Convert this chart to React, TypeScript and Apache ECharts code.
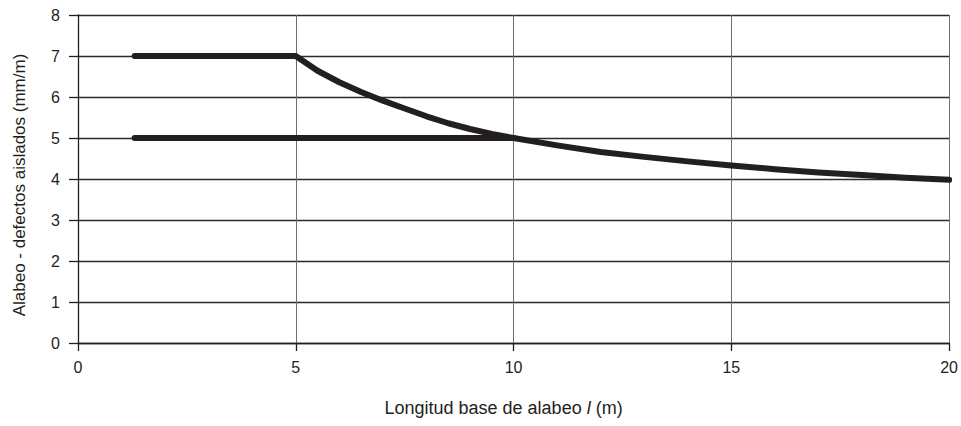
import React, { useEffect, useRef } from "react";
import * as echarts from "echarts";

const upperX = [1.3, 5, 5.5, 6, 6.5, 7, 7.5, 8, 8.5, 9, 9.5, 10, 11, 12, 13, 14, 15, 16, 17, 18, 19, 20];
const upperY = [7, 7, 6.64, 6.36, 6.12, 5.91, 5.72, 5.53, 5.36, 5.22, 5.1, 5.0, 4.82, 4.66, 4.54, 4.43, 4.33, 4.24, 4.16, 4.1, 4.03, 3.98];
const lowerX = [1.3, 10];
const lowerY = [5, 5];
const xTicks = [0, 5, 10, 15, 20];
const yTicks = [0, 1, 2, 3, 4, 5, 6, 7, 8];

export default function App() {
  const ref = useRef<HTMLDivElement>(null);
  useEffect(() => {
    if (!ref.current) return;
    const chart = echarts.init(ref.current, null, { renderer: "svg" });
    const font = "'Liberation Sans', Arial, sans-serif";
    chart.setOption({
      animation: false,
      textStyle: { fontFamily: font },
      grid: { left: 78, right: 10, top: 15, bottom: 83 },
      xAxis: {
        type: "value",
        min: xTicks[0],
        max: xTicks[xTicks.length - 1],
        interval: 5,
        name: "Longitud base de alabeo {i|l} (m)",
        nameLocation: "middle",
        nameGap: 56,
        nameTextStyle: {
          fontSize: 18,
          color: "#231f20",
          fontFamily: font,
          padding: [0, 20, 0, 0],
          rich: { i: { fontStyle: "italic", fontSize: 18, color: "#231f20", fontFamily: font } },
        },
        axisLine: { show: true, onZero: false, lineStyle: { color: "#231f20", width: 1.3 } },
        axisTick: { show: true, length: 8, lineStyle: { color: "#231f20", width: 1.3 } },
        axisLabel: { fontSize: 16, color: "#231f20", margin: 16 },
        splitLine: { show: true, lineStyle: { color: "#6d6d6d", width: 1 } },
      },
      yAxis: {
        type: "value",
        min: yTicks[0],
        max: yTicks[yTicks.length - 1],
        interval: 1,
        name: "Alabeo - defectos aislados (mm/m)",
        nameLocation: "middle",
        nameGap: 50,
        nameTextStyle: { fontSize: 17, color: "#231f20", fontFamily: font, padding: [0, 12, 0, 0] },
        axisLine: { show: true, lineStyle: { color: "#231f20", width: 1.3 } },
        axisTick: { show: true, length: 9, lineStyle: { color: "#231f20", width: 1.3 } },
        axisLabel: { fontSize: 16, color: "#231f20", margin: 18 },
        splitLine: { show: true, lineStyle: { color: "#2b2b2b", width: 1.3 } },
      },
      series: [
        {
          type: "line",
          data: upperX.map((x, i) => [x, upperY[i]]),
          showSymbol: false,
          symbol: "none",
          lineStyle: { color: "#231f20", width: 6, cap: "round", join: "round" },
        },
        {
          type: "line",
          data: lowerX.map((x, i) => [x, lowerY[i]]),
          showSymbol: false,
          symbol: "none",
          lineStyle: { color: "#231f20", width: 6, cap: "round", join: "round" },
        },
      ],
    });
    return () => chart.dispose();
  }, []);
  return <div ref={ref} style={{ width: 961, height: 426, position: "absolute", left: 0, top: 0 }} />;
}
